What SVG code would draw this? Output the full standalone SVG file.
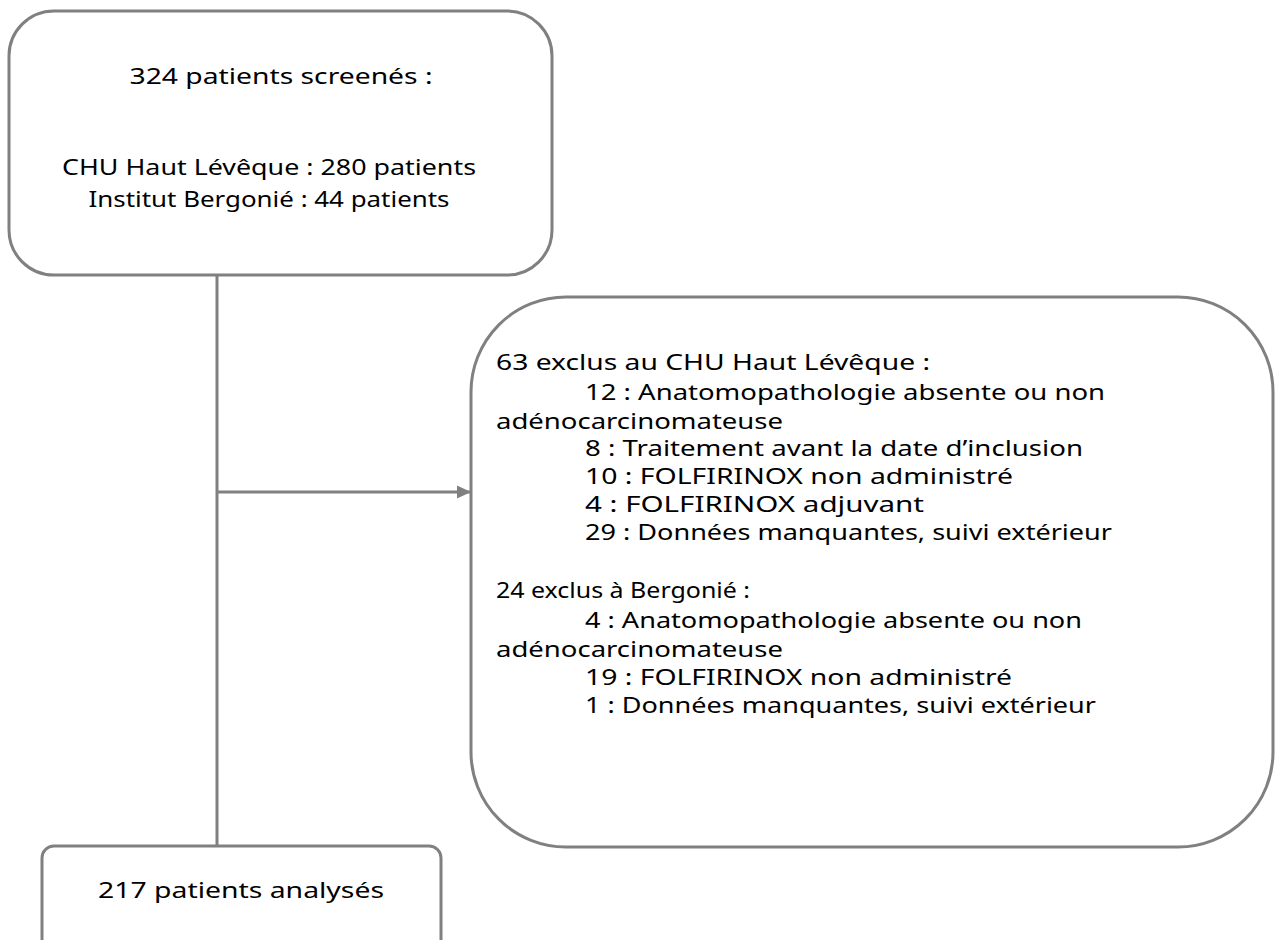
<svg xmlns="http://www.w3.org/2000/svg" width="1277" height="940" viewBox="0 0 1277 940">
<style>
.box{fill:#fff;stroke:#808080;stroke-width:3}
.ln{fill:none;stroke:#808080;stroke-width:3}
text{font-family:"Noto Sans","DejaVu Sans",sans-serif;font-size:22px;fill:#000}
.c{text-anchor:middle}
</style>
<defs>
<marker id="arr" markerWidth="14" markerHeight="14" refX="13" refY="7" orient="auto" markerUnits="userSpaceOnUse">
<path d="M0,0.5 L14,7 L0,13.5 Z" fill="#808080"/>
</marker>
</defs>
<rect width="1277" height="940" fill="#fff"/>
<g id="connectors">
<line class="ln" x1="217" y1="275" x2="217" y2="846"/>
<line class="ln" x1="217" y1="492" x2="470" y2="492" marker-end="url(#arr)"/>
</g>
<g id="screened">
<rect class="box" x="9" y="11" width="543" height="264" rx="45"/>
<text class="c" x="281" y="84" textLength="303" lengthAdjust="spacingAndGlyphs">324 patients screenés :</text>
<text class="c" x="269" y="175" textLength="414" lengthAdjust="spacingAndGlyphs">CHU Haut Lévêque : 280 patients</text>
<text class="c" x="269" y="207" textLength="361" lengthAdjust="spacingAndGlyphs">Institut Bergonié : 44 patients</text>
</g>
<g id="excluded">
<rect class="box" x="471" y="297" width="802" height="550" rx="95"/>
<text x="496" y="370" textLength="434" lengthAdjust="spacingAndGlyphs">63 exclus au CHU Haut Lévêque :</text>
<text x="585" y="400" textLength="520" lengthAdjust="spacingAndGlyphs">12 : Anatomopathologie absente ou non</text>
<text x="496" y="429" textLength="287" lengthAdjust="spacingAndGlyphs">adénocarcinomateuse</text>
<text x="585" y="456" textLength="498" lengthAdjust="spacingAndGlyphs">8 : Traitement avant la date d’inclusion</text>
<text x="585" y="484" textLength="428" lengthAdjust="spacingAndGlyphs">10 : FOLFIRINOX non administré</text>
<text x="585" y="512" textLength="339" lengthAdjust="spacingAndGlyphs">4 : FOLFIRINOX adjuvant</text>
<text x="585" y="540" textLength="527" lengthAdjust="spacingAndGlyphs">29 : Données manquantes, suivi extérieur</text>
<text x="496" y="598" textLength="254" lengthAdjust="spacingAndGlyphs">24 exclus à Bergonié :</text>
<text x="585" y="628" textLength="497" lengthAdjust="spacingAndGlyphs">4 : Anatomopathologie absente ou non</text>
<text x="496" y="657" textLength="287" lengthAdjust="spacingAndGlyphs">adénocarcinomateuse</text>
<text x="585" y="685" textLength="427" lengthAdjust="spacingAndGlyphs">19 : FOLFIRINOX non administré</text>
<text x="585" y="713" textLength="511" lengthAdjust="spacingAndGlyphs">1 : Données manquantes, suivi extérieur</text>
</g>
<g id="analysed">
<rect class="box" x="42" y="846" width="399" height="110" rx="12"/>
<text class="c" x="241" y="898" textLength="286" lengthAdjust="spacingAndGlyphs">217 patients analysés</text>
</g>
</svg>
